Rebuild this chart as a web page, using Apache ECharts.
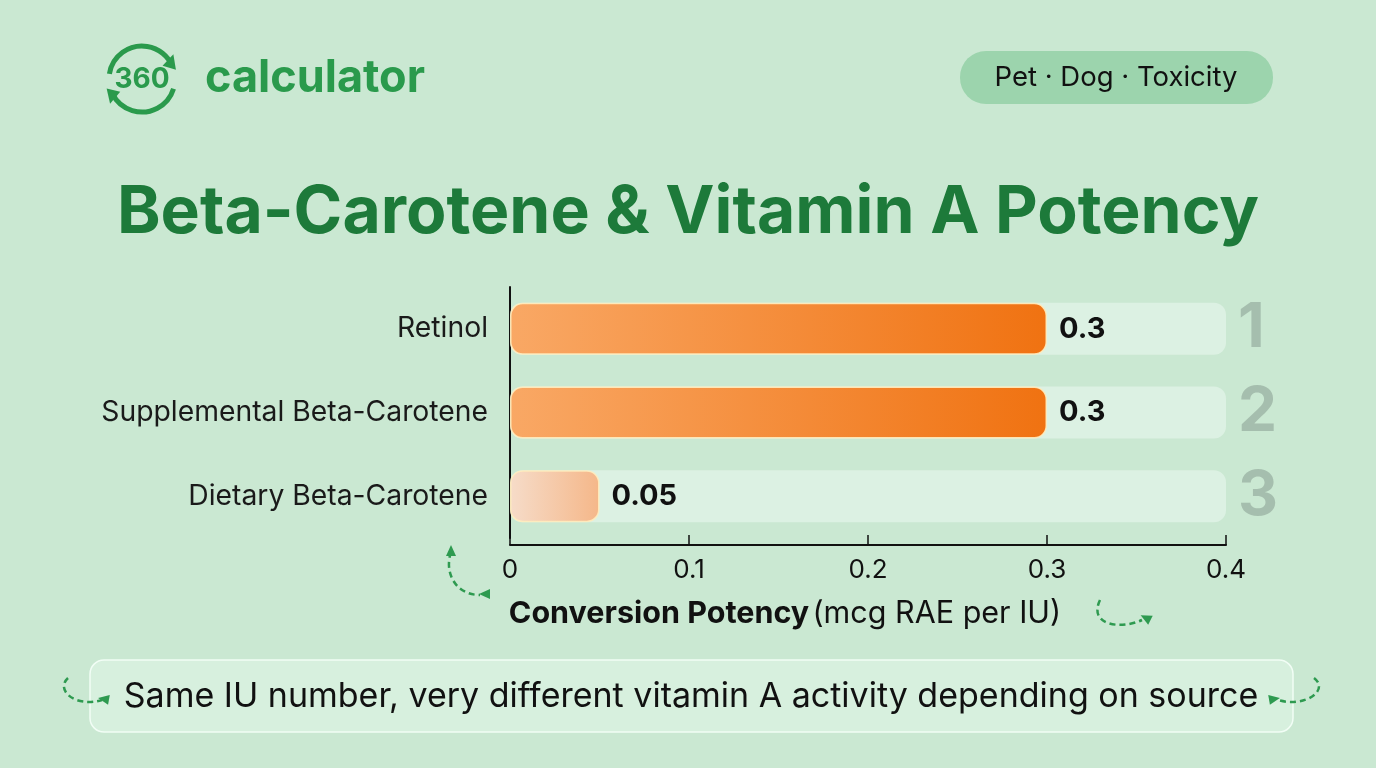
<!DOCTYPE html>
<html>
<head>
<meta charset="utf-8">
<script src="https://cdn.jsdelivr.net/npm/echarts@6/dist/echarts.min.js"></script>
<style>
html,body{margin:0;padding:0;background:#cae8d2;}
#c{width:1376px;height:768px;}
</style>
</head>
<body>
<div id="c"></div>
<script>
const categories = ['Retinol', 'Supplemental Beta-Carotene', 'Dietary Beta-Carotene'];
const potency = [0.3, 0.3, 0.05];
const ranks = ['1', '2', '3'];
const xTicks = { min: 0, max: 0.4, interval: 0.1 };

const chart = echarts.init(document.getElementById('c'), null, { renderer: 'canvas' });
const FONT = 'Inter, Roboto, "Noto Sans", sans-serif';

const orangeGrad = new echarts.graphic.LinearGradient(0, 0, 1, 0, [
  { offset: 0, color: '#f9a865' }, { offset: 1, color: '#f07211' }
]);
const paleGrad = new echarts.graphic.LinearGradient(0, 0, 1, 0, [
  { offset: 0, color: '#f6dcc9' }, { offset: 1, color: '#f5b789' }
]);

function dashedArrow(x1, y1, cx1, cy1, cx2, cy2, x2, y2, ax, ay, rot) {
  return [
    { type: 'bezierCurve', shape: { x1, y1, cpx1: cx1, cpy1: cy1, cpx2: cx2, cpy2: cy2, x2, y2 },
      style: { stroke: '#2e9a50', lineWidth: 2.5, lineDash: [6, 4], fill: null } },
    { type: 'polygon', x: ax, y: ay, rotation: rot,
      shape: { points: [[0, -6], [-5, 5], [5, 5]] }, style: { fill: '#2e9a50' } }
  ];
}

const graphics = [
  // logo ring
  { type: 'arc', shape: { cx: 142, cy: 79, r: 33, startAngle: 0.3, endAngle: 2.7 }, style: { stroke: '#2a9a4c', lineWidth: 5, fill: null } },
  { type: 'arc', shape: { cx: 142, cy: 79, r: 33, startAngle: 3.3, endAngle: 5.9 }, style: { stroke: '#2a9a4c', lineWidth: 5, fill: null } },
  { type: 'polygon', x: 171, y: 62, rotation: -0.3, shape: { points: [[0, -8], [-7, 6], [7, 6]] }, style: { fill: '#2a9a4c' } },
  { type: 'polygon', x: 112, y: 96, rotation: 2.9, shape: { points: [[0, -8], [-7, 6], [7, 6]] }, style: { fill: '#2a9a4c' } },
  { type: 'text', x: 142, y: 80, style: { text: '360', font: 'bold 28px ' + FONT, fill: '#2a9a4c', align: 'center', verticalAlign: 'middle' } },
  { type: 'text', x: 205, y: 78, style: { text: 'calculator', font: 'bold 45px ' + FONT, fill: '#2a9a4c', align: 'left', verticalAlign: 'middle' } },
  // tag pill
  { type: 'rect', shape: { x: 960, y: 51, width: 313, height: 53, r: 26 }, style: { fill: 'rgba(140,205,160,0.75)' } },
  { type: 'text', x: 1116, y: 78, style: { text: 'Pet · Dog · Toxicity', font: '27.5px ' + FONT, fill: '#111', align: 'center', verticalAlign: 'middle' } },
  // footer box
  { type: 'rect', shape: { x: 90, y: 660, width: 1203, height: 72, r: 14 }, style: { fill: 'rgba(225,245,232,0.55)', stroke: 'rgba(245,255,248,0.9)', lineWidth: 1.5 } },
  { type: 'text', x: 691, y: 697, style: { text: 'Same IU number, very different vitamin A activity depending on source', font: '34px ' + FONT, fill: '#111', align: 'center', verticalAlign: 'middle' } },
  ...dashedArrow(451, 552, 444, 572, 455, 595, 480, 595, 485, 594, 1.57),
  ...dashedArrow(1100, 600, 1088, 625, 1120, 630, 1142, 620, 1146, 618, 1.1),
  ...dashedArrow(68, 678, 55, 690, 75, 708, 102, 700, 104, 699, 1.4),
  ...dashedArrow(1314, 678, 1330, 690, 1305, 708, 1278, 700, 1274, 699, -1.4),
  { type: 'polygon', x: 451, y: 552, rotation: 0, shape: { points: [[0, -7], [-5, 4], [5, 4]] }, style: { fill: '#2e9a50' } }
];

chart.setOption({
  backgroundColor: '#cae8d2',
  animation: false,
  title: {
    text: 'Beta-Carotene & Vitamin A Potency',
    left: 'center', top: 175,
    textStyle: { fontFamily: FONT, fontSize: 66, fontWeight: 'bold', color: '#1d7a3a' }
  },
  grid: { left: 510, right: 150, top: 287, height: 251, containLabel: false },
  xAxis: {
    type: 'value', min: xTicks.min, max: xTicks.max, interval: xTicks.interval,
    offset: 7,
    axisLine: { show: true, lineStyle: { color: '#111', width: 2 } },
    axisTick: { show: true, inside: true, length: 10, lineStyle: { color: '#111', width: 1.5 } },
    splitLine: { show: false },
    axisLabel: { fontFamily: FONT, fontSize: 26, color: '#111', margin: 12 },
    name: '{b|Conversion Potency} {n|(mcg RAE per IU)}',
    nameLocation: 'middle', nameGap: 53,
    nameTextStyle: {
      padding: [0, 166, 0, 0],
      rich: {
        b: { fontFamily: FONT, fontSize: 30.5, fontWeight: 'bold', color: '#111' },
        n: { fontFamily: FONT, fontSize: 30.5, color: '#111' }
      }
    }
  },
  yAxis: [
    {
      type: 'category', data: categories, inverse: true,
      axisLine: { show: true, lineStyle: { color: '#111', width: 2 } },
      axisTick: { show: false },
      axisLabel: { fontFamily: FONT, fontSize: 28.3, color: '#1a1a1a', margin: 22 }
    },
    {
      type: 'category', data: ranks, inverse: true, position: 'right',
      axisLine: { show: false }, axisTick: { show: false },
      axisLabel: { fontFamily: FONT, fontSize: 62, fontWeight: 'bold', color: 'rgba(150,172,158,0.7)', margin: 12, align: 'left' }
    }
  ],
  series: [{
    type: 'bar',
    data: potency.map((v, i) => ({
      value: v,
      itemStyle: { color: i === 2 ? paleGrad : orangeGrad }
    })),
    barWidth: 52,
    showBackground: true,
    backgroundStyle: { color: 'rgba(235,248,240,0.55)', borderRadius: 12 },
    itemStyle: { borderRadius: 12, borderColor: 'rgba(255,236,190,0.9)', borderWidth: 1.5 },
    label: {
      show: true, position: 'right', distance: 12,
      fontFamily: FONT, fontSize: 29, fontWeight: 'bold', color: '#111',
      formatter: p => String(p.value)
    }
  }],
  graphic: graphics
});
</script>
</body>
</html>
